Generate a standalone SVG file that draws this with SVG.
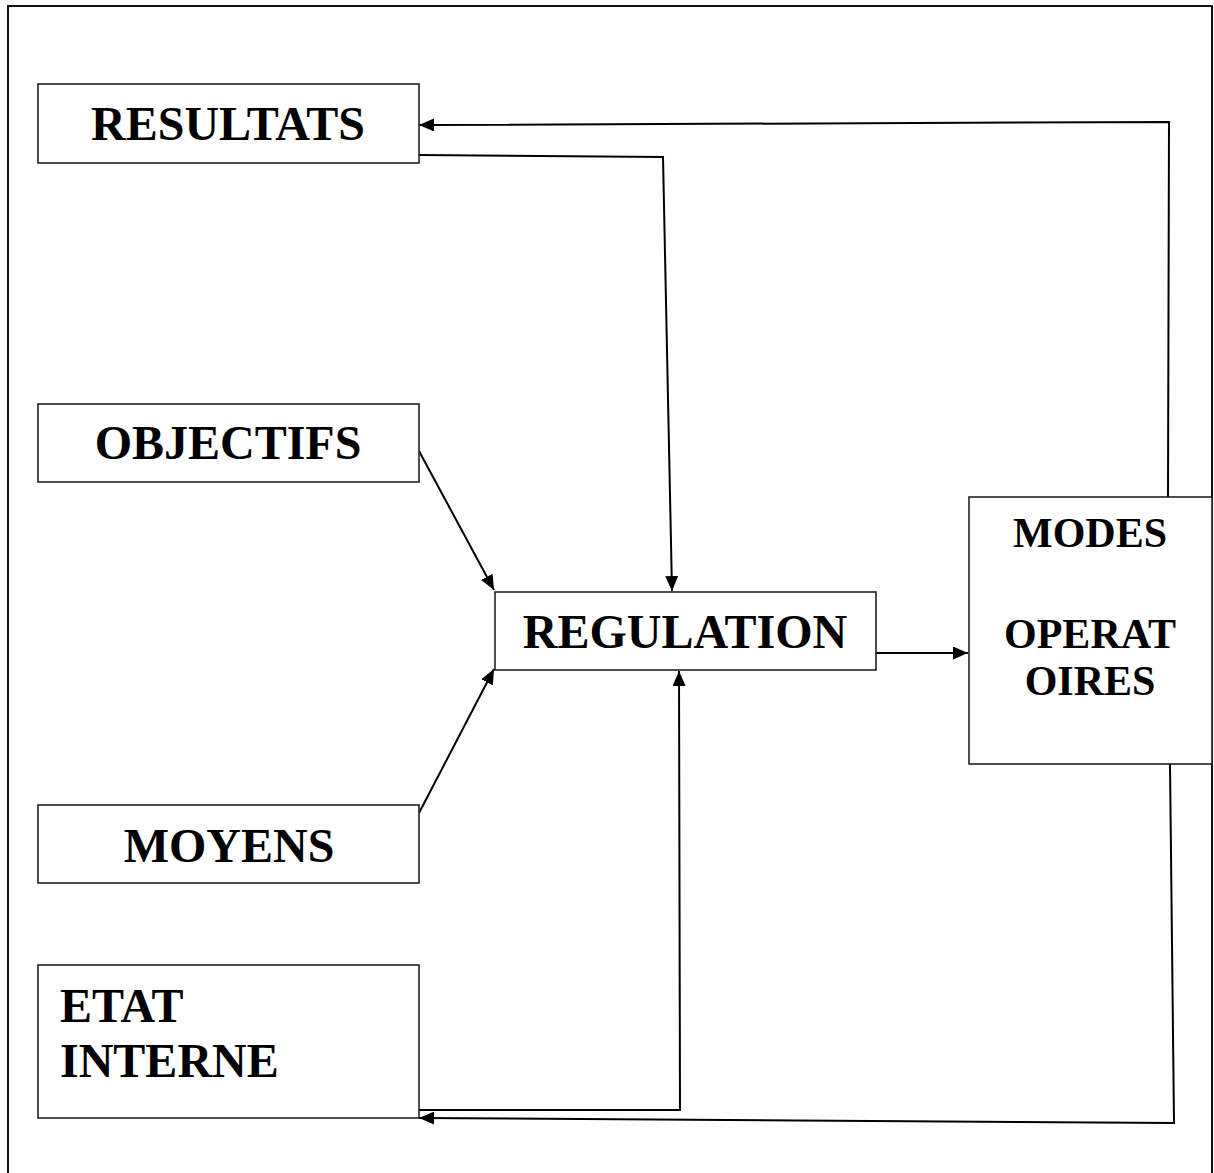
<svg xmlns="http://www.w3.org/2000/svg" width="1214" height="1173" viewBox="0 0 1214 1173">
<style>
.box{fill:#fff;stroke:#222;stroke-width:1.6}
.lbl{font-family:"Liberation Serif","Times New Roman",serif;font-weight:bold;fill:#000}
.c{fill:none;stroke:#000;stroke-width:2}
</style>
<defs>
<marker id="ah" markerUnits="userSpaceOnUse" markerWidth="15" markerHeight="13" refX="15" refY="6.5" orient="auto" viewBox="0 0 15 13">
<path d="M0,0 L15,6.5 L0,13 z" fill="#000"/>
</marker>
</defs>
<rect x="8" y="6" width="1204" height="1180" fill="#fff" stroke="#111" stroke-width="2"/>
<g id="connectors">
<polyline class="c" points="419,155 663,157 672,591" marker-end="url(#ah)"/>
<polyline class="c" points="1168,497 1169,122 419,125" marker-end="url(#ah)"/>
<line class="c" x1="419" y1="451" x2="494" y2="590" marker-end="url(#ah)"/>
<line class="c" x1="419" y1="813" x2="494" y2="669" marker-end="url(#ah)"/>
<line class="c" x1="876" y1="653" x2="968" y2="653" marker-end="url(#ah)"/>
<polyline class="c" points="419,1110 680,1110 679,671" marker-end="url(#ah)"/>
<polyline class="c" points="1170,764 1174,1123 419,1118" marker-end="url(#ah)"/>
</g>
<g id="resultats">
<rect class="box" x="38" y="84" width="381" height="79"/>
<text class="lbl" x="228" y="140" font-size="48" text-anchor="middle">RESULTATS</text>
</g>
<g id="objectifs">
<rect class="box" x="38" y="404" width="381" height="78"/>
<text class="lbl" x="228" y="459" font-size="48" text-anchor="middle">OBJECTIFS</text>
</g>
<g id="moyens">
<rect class="box" x="38" y="805" width="381" height="78"/>
<text class="lbl" x="229" y="862" font-size="48" text-anchor="middle">MOYENS</text>
</g>
<g id="etat-interne">
<rect class="box" x="38" y="965" width="381" height="153"/>
<text class="lbl" x="60" y="1022" font-size="48">ETAT</text>
<text class="lbl" x="60" y="1077" font-size="48">INTERNE</text>
</g>
<g id="regulation">
<rect class="box" x="495" y="592" width="381" height="78"/>
<text class="lbl" x="685" y="648" font-size="48" text-anchor="middle">REGULATION</text>
</g>
<g id="modes-operatoires">
<rect class="box" x="969" y="497" width="243" height="267"/>
<text class="lbl" x="1090" y="547" font-size="42" text-anchor="middle">MODES</text>
<text class="lbl" x="1090" y="648" font-size="42" text-anchor="middle">OPERAT</text>
<text class="lbl" x="1090" y="695" font-size="42" text-anchor="middle">OIRES</text>
</g>
</svg>
